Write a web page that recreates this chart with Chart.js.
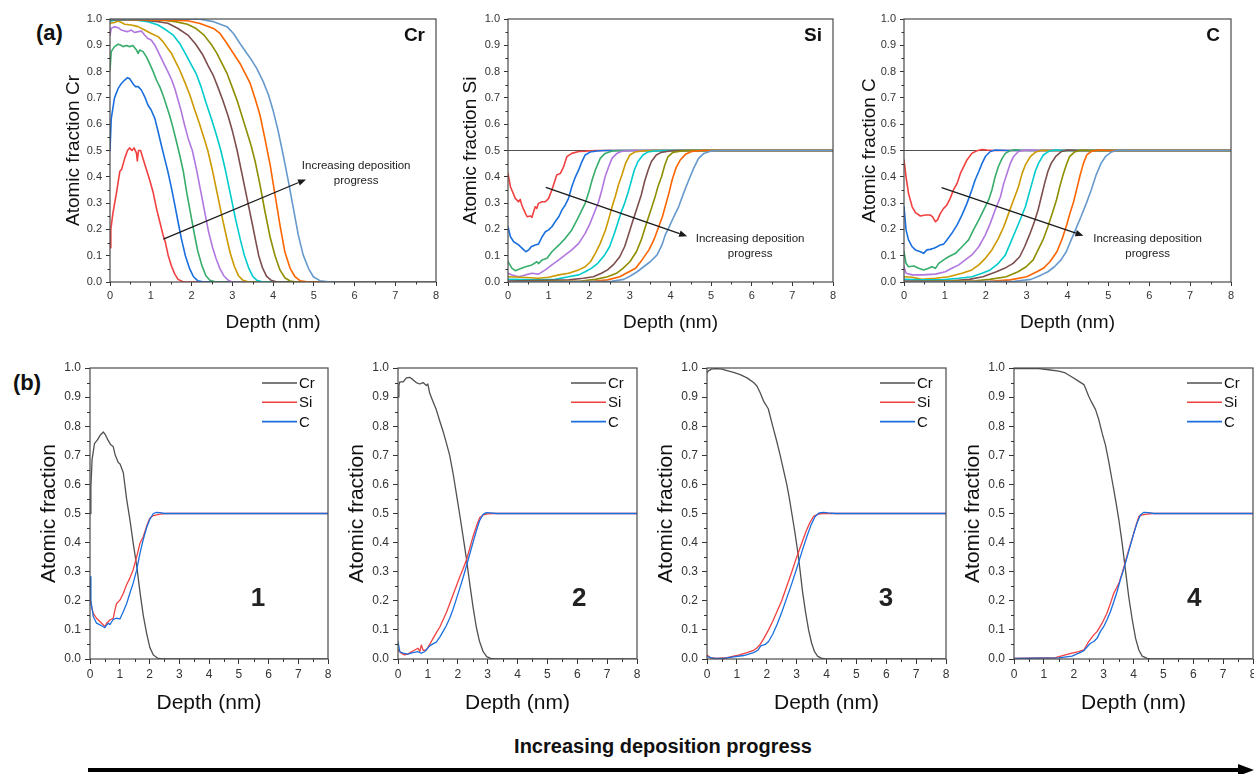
<!DOCTYPE html>
<html>
<head>
<meta charset="utf-8">
<title>Cr / Si / C depth profiles</title>
<script src="https://cdn.jsdelivr.net/npm/chart.js@4"></script>
<style>
  html, body { margin: 0; padding: 0; background: #fff; }
  #figure { position: relative; width: 1254px; height: 774px; overflow: hidden; font-family: "Liberation Sans", Arial, sans-serif; color: #111; }
  .panel { position: absolute; }
  .tag { position: absolute; font-weight: bold; font-size: 22px; line-height: 26px; }
  #progress { position: absolute; left: 413px; width: 500px; top: 734px; line-height: 24px; text-align: center; font-weight: bold; font-size: 20px; }
  #bigArrow { position: absolute; left: 0; top: 760px; }
</style>
</head>
<body>
<div id="figure">
  <div class="tag" style="left:36px; top:20px;">(a)</div>
  <div class="tag" style="left:13px; top:370px;">(b)</div>
  <div id="progress">Increasing deposition progress</div>
  <svg id="bigArrow" width="1254" height="20">
    <line x1="88" y1="10" x2="1242" y2="10" stroke="#000" stroke-width="4"></line>
    <polygon points="1238,4 1254,10 1238,16" fill="#000"></polygon>
  </svg>
</div>

<script>
// ---- top row: ten deposition stages, [depth nm, atomic fraction] ----
const cr01 = [[0,0.13],[0.02,0.2],[0.07,0.26],[0.16,0.34],[0.24,0.42],[0.29,0.43],[0.36,0.47],[0.43,0.5],[0.48,0.51],[0.54,0.5],[0.59,0.51],[0.65,0.49],[0.67,0.46],[0.7,0.5],[0.75,0.5],[0.81,0.47],[0.89,0.43],[0.97,0.39],[1.06,0.34],[1.14,0.28],[1.22,0.23],[1.3,0.18],[1.36,0.15],[1.43,0.1],[1.51,0.06],[1.59,0.03],[1.67,0.01],[1.8,0],[8,0]];
const cr02 = [[0,0.5],[0.03,0.62],[0.11,0.7],[0.2,0.736],[0.28,0.755],[0.36,0.768],[0.43,0.777],[0.48,0.774],[0.56,0.755],[0.62,0.743],[0.69,0.743],[0.77,0.73],[0.85,0.705],[0.93,0.673],[1.01,0.654],[1.1,0.622],[1.18,0.572],[1.26,0.52],[1.34,0.47],[1.42,0.42],[1.51,0.356],[1.59,0.293],[1.67,0.229],[1.75,0.166],[1.85,0.1],[1.95,0.052],[2.05,0.02],[2.15,0.005],[2.3,0],[8,0]];
const cr03 = [[0,0.806],[0.03,0.876],[0.11,0.895],[0.2,0.904],[0.26,0.901],[0.32,0.895],[0.4,0.899],[0.48,0.895],[0.56,0.899],[0.65,0.882],[0.69,0.869],[0.73,0.882],[0.81,0.876],[0.89,0.857],[0.97,0.831],[1.06,0.8],[1.14,0.768],[1.22,0.743],[1.3,0.711],[1.38,0.673],[1.46,0.635],[1.55,0.584],[1.63,0.534],[1.71,0.483],[1.8,0.42],[1.88,0.343],[1.97,0.267],[2.06,0.191],[2.15,0.12],[2.25,0.065],[2.35,0.025],[2.45,0.007],[2.6,0],[8,0]];
const cr04 = [[0,0.939],[0.03,0.964],[0.11,0.971],[0.2,0.967],[0.28,0.958],[0.36,0.954],[0.44,0.952],[0.52,0.958],[0.6,0.949],[0.69,0.952],[0.77,0.954],[0.85,0.939],[0.93,0.926],[1.01,0.92],[1.1,0.901],[1.18,0.876],[1.26,0.85],[1.34,0.825],[1.42,0.8],[1.51,0.77],[1.59,0.736],[1.67,0.692],[1.75,0.648],[1.83,0.597],[1.92,0.545],[2.02,0.5],[2.12,0.43],[2.22,0.35],[2.32,0.27],[2.42,0.19],[2.52,0.13],[2.6,0.09],[2.7,0.05],[2.8,0.022],[2.9,0.007],[3.0,0],[8,0]];
const cr05 = [[0,0.984],[0.11,0.987],[0.2,0.992],[0.28,0.987],[0.36,0.98],[0.52,0.977],[0.69,0.971],[0.85,0.958],[1.01,0.945],[1.18,0.933],[1.3,0.914],[1.42,0.888],[1.51,0.869],[1.59,0.844],[1.71,0.806],[1.83,0.762],[1.96,0.711],[2.08,0.654],[2.2,0.6],[2.3,0.55],[2.4,0.5],[2.52,0.42],[2.64,0.33],[2.76,0.24],[2.86,0.17],[2.95,0.11],[3.05,0.06],[3.15,0.025],[3.25,0.008],[3.4,0],[8,0]];
const cr06 = [[0,0.992],[0.2,0.997],[0.61,0.996],[0.93,0.99],[1.18,0.977],[1.38,0.958],[1.55,0.939],[1.71,0.907],[1.87,0.863],[2.0,0.825],[2.12,0.79],[2.24,0.74],[2.36,0.68],[2.49,0.62],[2.61,0.56],[2.72,0.5],[2.84,0.42],[2.96,0.33],[3.08,0.24],[3.2,0.16],[3.3,0.1],[3.4,0.055],[3.5,0.022],[3.6,0.007],[3.75,0],[8,0]];
const cr07 = [[0,0.997],[0.77,0.996],[1.18,0.99],[1.42,0.984],[1.67,0.964],[1.91,0.939],[2.1,0.905],[2.28,0.863],[2.4,0.825],[2.53,0.787],[2.65,0.74],[2.77,0.69],[2.9,0.63],[3.01,0.57],[3.12,0.5],[3.24,0.41],[3.36,0.32],[3.48,0.23],[3.57,0.16],[3.65,0.1],[3.74,0.055],[3.84,0.022],[3.95,0.007],[4.1,0],[8,0]];
const cr08 = [[0,0.999],[1.2,0.997],[1.6,0.99],[1.9,0.98],[2.1,0.965],[2.3,0.94],[2.5,0.9],[2.62,0.87],[2.75,0.83],[2.88,0.79],[3.0,0.74],[3.12,0.69],[3.24,0.63],[3.36,0.57],[3.46,0.52],[3.56,0.46],[3.68,0.37],[3.8,0.27],[3.93,0.17],[4.05,0.1],[4.17,0.046],[4.29,0.016],[4.42,0.004],[4.58,0],[8,0]];
const cr09 = [[0,1.0],[1.88,0.994],[2.21,0.983],[2.54,0.964],[2.7,0.945],[2.87,0.907],[3.03,0.869],[3.19,0.831],[3.36,0.78],[3.44,0.755],[3.56,0.698],[3.68,0.635],[3.8,0.546],[3.93,0.445],[4.05,0.331],[4.17,0.217],[4.29,0.115],[4.42,0.052],[4.54,0.02],[4.66,0.005],[4.87,0],[8,0]];
const cr10 = [[0,1.0],[2.21,0.999],[2.54,0.99],[2.87,0.971],[3.03,0.945],[3.19,0.907],[3.36,0.869],[3.44,0.852],[3.6,0.812],[3.76,0.762],[3.89,0.711],[4.01,0.648],[4.13,0.572],[4.25,0.483],[4.38,0.381],[4.5,0.28],[4.62,0.179],[4.74,0.103],[4.87,0.052],[4.99,0.02],[5.15,0.005],[5.4,0],[8,0]];

const si01 = [[0,0.413],[0.06,0.362],[0.18,0.318],[0.26,0.305],[0.3,0.314],[0.34,0.293],[0.39,0.274],[0.47,0.248],[0.55,0.251],[0.59,0.246],[0.63,0.267],[0.67,0.286],[0.71,0.28],[0.75,0.299],[0.84,0.305],[0.92,0.305],[1.0,0.318],[1.08,0.35],[1.2,0.407],[1.29,0.413],[1.37,0.439],[1.45,0.477],[1.57,0.489],[1.74,0.496],[1.9,0.497],[2.15,0.5],[8,0.5]];
const si02 = [[0,0.21],[0.06,0.172],[0.14,0.153],[0.26,0.141],[0.39,0.122],[0.44,0.115],[0.51,0.122],[0.57,0.134],[0.67,0.141],[0.75,0.144],[0.84,0.172],[0.92,0.191],[1.0,0.198],[1.08,0.21],[1.16,0.229],[1.25,0.248],[1.33,0.274],[1.41,0.293],[1.49,0.318],[1.57,0.362],[1.66,0.4],[1.74,0.426],[1.82,0.458],[1.9,0.483],[2.02,0.494],[2.19,0.498],[2.39,0.5],[8,0.5]];
const si03 = [[0,0.077],[0.1,0.052],[0.18,0.043],[0.3,0.05],[0.43,0.058],[0.59,0.065],[0.71,0.077],[0.75,0.07],[0.84,0.084],[0.96,0.09],[1.08,0.115],[1.25,0.14],[1.41,0.166],[1.57,0.198],[1.7,0.236],[1.82,0.274],[1.9,0.299],[1.98,0.337],[2.07,0.388],[2.15,0.426],[2.27,0.47],[2.39,0.489],[2.56,0.498],[2.8,0.5],[8,0.5]];
const si04 = [[0,0.033],[0.1,0.027],[0.26,0.02],[0.43,0.027],[0.59,0.033],[0.75,0.03],[0.92,0.046],[1.08,0.065],[1.25,0.084],[1.41,0.103],[1.57,0.122],[1.74,0.147],[1.9,0.185],[2.02,0.223],[2.15,0.274],[2.23,0.305],[2.31,0.35],[2.39,0.4],[2.48,0.439],[2.56,0.47],[2.68,0.489],[2.8,0.497],[3.05,0.5],[8,0.5]];
const si05 = [[0,0.02],[0.45,0.017],[0.75,0.014],[1.0,0.018],[1.25,0.027],[1.49,0.033],[1.74,0.046],[1.9,0.058],[2.03,0.077],[2.15,0.109],[2.27,0.147],[2.4,0.198],[2.48,0.24],[2.56,0.285],[2.64,0.325],[2.72,0.37],[2.81,0.41],[2.89,0.45],[3.0,0.483],[3.12,0.494],[3.3,0.498],[3.55,0.5],[8,0.5]];
const si06 = [[0,0.01],[0.75,0.008],[1.16,0.01],[1.49,0.02],[1.74,0.027],[1.9,0.039],[2.05,0.052],[2.21,0.071],[2.38,0.103],[2.5,0.134],[2.62,0.185],[2.7,0.223],[2.79,0.267],[2.87,0.299],[2.95,0.337],[3.03,0.381],[3.11,0.426],[3.2,0.458],[3.32,0.483],[3.44,0.494],[3.6,0.498],[3.85,0.5],[8,0.5]];
const si07 = [[0,0.004],[1.5,0.008],[1.85,0.014],[2.1,0.02],[2.3,0.033],[2.45,0.046],[2.59,0.065],[2.75,0.096],[2.87,0.134],[2.95,0.172],[3.04,0.217],[3.12,0.255],[3.2,0.293],[3.28,0.331],[3.36,0.381],[3.45,0.426],[3.53,0.458],[3.65,0.483],[3.77,0.493],[3.98,0.498],[4.22,0.5],[8,0.5]];
const si08 = [[0,0.001],[1.8,0.004],[2.15,0.01],[2.45,0.02],[2.67,0.033],[2.83,0.052],[3.0,0.077],[3.16,0.115],[3.28,0.16],[3.37,0.204],[3.45,0.242],[3.53,0.28],[3.61,0.318],[3.69,0.362],[3.78,0.4],[3.86,0.445],[3.94,0.477],[4.06,0.493],[4.27,0.498],[4.47,0.5],[8,0.5]];
const si09 = [[0,0],[2.1,0.003],[2.45,0.008],[2.75,0.02],[2.98,0.039],[3.14,0.052],[3.3,0.084],[3.47,0.122],[3.59,0.16],[3.71,0.21],[3.8,0.248],[3.88,0.293],[3.96,0.337],[4.04,0.388],[4.13,0.432],[4.24,0.464],[4.38,0.487],[4.52,0.496],[4.8,0.5],[8,0.5]];
const si10 = [[0,0],[2.55,0.003],[2.85,0.01],[3.01,0.023],[3.18,0.039],[3.34,0.058],[3.5,0.077],[3.67,0.103],[3.79,0.141],[3.87,0.179],[3.95,0.204],[4.08,0.248],[4.2,0.286],[4.32,0.337],[4.45,0.388],[4.57,0.432],[4.69,0.47],[4.82,0.489],[5.0,0.498],[5.25,0.5],[8,0.5]];

const c01 = [[0,0.464],[0.05,0.4],[0.11,0.337],[0.2,0.286],[0.28,0.264],[0.4,0.251],[0.52,0.255],[0.64,0.255],[0.7,0.248],[0.77,0.229],[0.82,0.236],[0.89,0.261],[0.97,0.28],[1.05,0.293],[1.13,0.318],[1.21,0.35],[1.3,0.375],[1.38,0.413],[1.46,0.439],[1.54,0.464],[1.66,0.489],[1.78,0.499],[1.91,0.504],[2.03,0.502],[2.19,0.5],[8,0.5]];
const c02 = [[0,0.286],[0.05,0.198],[0.11,0.16],[0.2,0.134],[0.28,0.122],[0.4,0.115],[0.48,0.109],[0.56,0.122],[0.64,0.124],[0.73,0.128],[0.81,0.134],[0.89,0.141],[0.97,0.144],[1.05,0.16],[1.17,0.185],[1.3,0.217],[1.42,0.255],[1.54,0.299],[1.66,0.35],[1.74,0.388],[1.83,0.42],[1.91,0.451],[1.99,0.477],[2.11,0.496],[2.23,0.502],[2.4,0.501],[2.56,0.5],[8,0.5]];
const c03 = [[0,0.115],[0.05,0.071],[0.11,0.058],[0.24,0.061],[0.36,0.052],[0.48,0.046],[0.6,0.052],[0.68,0.058],[0.77,0.052],[0.85,0.071],[0.97,0.084],[1.09,0.096],[1.26,0.109],[1.42,0.134],[1.58,0.16],[1.7,0.198],[1.83,0.236],[1.95,0.274],[2.07,0.312],[2.15,0.35],[2.23,0.4],[2.31,0.439],[2.4,0.47],[2.48,0.489],[2.6,0.5],[2.72,0.503],[2.89,0.501],[3.05,0.5],[8,0.5]];
const c04 = [[0,0.058],[0.05,0.033],[0.2,0.027],[0.44,0.027],[0.77,0.03],[1.01,0.039],[1.17,0.052],[1.34,0.065],[1.5,0.084],[1.66,0.103],[1.83,0.134],[1.99,0.179],[2.11,0.223],[2.23,0.274],[2.36,0.324],[2.44,0.375],[2.52,0.413],[2.6,0.451],[2.68,0.477],[2.8,0.496],[2.97,0.502],[3.17,0.501],[3.37,0.5],[8,0.5]];
const c05 = [[0,0.02],[0.2,0.018],[0.44,0.01],[0.77,0.014],[1.09,0.02],[1.42,0.033],[1.66,0.046],[1.83,0.065],[1.99,0.09],[2.15,0.122],[2.31,0.166],[2.44,0.21],[2.56,0.261],[2.68,0.312],[2.8,0.362],[2.89,0.413],[2.97,0.445],[3.09,0.477],[3.21,0.493],[3.37,0.501],[3.62,0.5],[8,0.5]];
const c06 = [[0,0.01],[0.44,0.008],[0.93,0.008],[1.34,0.014],[1.66,0.02],[1.91,0.033],[2.11,0.046],[2.31,0.071],[2.48,0.103],[2.6,0.147],[2.72,0.191],[2.84,0.236],[2.97,0.286],[3.05,0.331],[3.13,0.375],[3.21,0.42],[3.29,0.451],[3.41,0.483],[3.54,0.497],[3.7,0.502],[3.94,0.5],[8,0.5]];
const c07 = [[0,0.004],[1.17,0.005],[1.6,0.01],[1.93,0.02],[2.26,0.039],[2.46,0.052],[2.67,0.071],[2.83,0.096],[2.95,0.134],[3.07,0.179],[3.19,0.229],[3.28,0.274],[3.36,0.324],[3.44,0.375],[3.52,0.42],[3.6,0.451],[3.72,0.479],[3.85,0.496],[4.01,0.502],[4.25,0.5],[8,0.5]];
const c08 = [[0,0.001],[1.75,0.005],[2.1,0.01],[2.5,0.02],[2.79,0.039],[2.99,0.058],[3.16,0.084],[3.28,0.122],[3.4,0.16],[3.52,0.21],[3.64,0.267],[3.73,0.312],[3.81,0.362],[3.89,0.407],[3.97,0.445],[4.05,0.477],[4.17,0.494],[4.34,0.502],[4.54,0.5],[8,0.5]];
const c09 = [[0,0],[2.1,0.003],[2.6,0.008],[3.0,0.02],[3.25,0.039],[3.41,0.052],[3.57,0.077],[3.74,0.115],[3.86,0.16],[3.98,0.217],[4.06,0.261],[4.15,0.305],[4.23,0.356],[4.31,0.407],[4.39,0.451],[4.47,0.483],[4.59,0.497],[4.8,0.502],[5.0,0.5],[8,0.5]];
const c10 = [[0,0],[2.7,0.003],[3.11,0.01],[3.36,0.027],[3.52,0.039],[3.68,0.058],[3.84,0.084],[3.97,0.115],[4.09,0.16],[4.21,0.204],[4.33,0.248],[4.46,0.299],[4.58,0.35],[4.7,0.407],[4.82,0.451],[4.94,0.479],[5.07,0.494],[5.23,0.501],[5.47,0.5],[8,0.5]];

const halfLine = [[0,0.5],[8,0.5]];

// ---- bottom row: snapshots 1-4 ----
const s1Cr = [[0,0.5],[0.03,0.59],[0.07,0.685],[0.15,0.74],[0.25,0.753],[0.35,0.77],[0.45,0.78],[0.52,0.77],[0.6,0.753],[0.7,0.736],[0.78,0.73],[0.85,0.7],[0.95,0.675],[1.01,0.67],[1.12,0.64],[1.23,0.55],[1.34,0.48],[1.45,0.4],[1.57,0.32],[1.68,0.23],[1.79,0.15],[1.9,0.09],[2.01,0.04],[2.13,0.014],[2.29,0.002],[2.46,0],[8,0]];
const s1Si = [[0,0.21],[0.05,0.18],[0.11,0.157],[0.22,0.14],[0.34,0.128],[0.45,0.117],[0.5,0.111],[0.56,0.123],[0.67,0.134],[0.78,0.14],[0.84,0.169],[0.89,0.19],[1.01,0.203],[1.12,0.226],[1.23,0.255],[1.34,0.278],[1.45,0.306],[1.57,0.352],[1.68,0.398],[1.79,0.42],[1.9,0.455],[2.01,0.484],[2.13,0.493],[2.24,0.495],[2.35,0.498],[2.57,0.5],[8,0.5]];
const s1C = [[0,0.283],[0.03,0.2],[0.11,0.146],[0.22,0.123],[0.34,0.117],[0.45,0.111],[0.5,0.108],[0.56,0.117],[0.62,0.123],[0.67,0.118],[0.73,0.128],[0.78,0.136],[0.89,0.14],[1.01,0.138],[1.12,0.163],[1.23,0.19],[1.34,0.226],[1.45,0.26],[1.57,0.306],[1.68,0.364],[1.79,0.41],[1.9,0.45],[2.01,0.48],[2.13,0.5],[2.24,0.504],[2.35,0.503],[2.52,0.5],[8,0.5]];

const s2Cr = [[0,0.9],[0.03,0.94],[0.06,0.952],[0.17,0.952],[0.28,0.966],[0.39,0.968],[0.5,0.96],[0.61,0.95],[0.73,0.945],[0.84,0.95],[0.95,0.94],[1.0,0.945],[1.06,0.914],[1.17,0.885],[1.28,0.857],[1.4,0.817],[1.51,0.782],[1.62,0.742],[1.73,0.7],[1.84,0.64],[1.95,0.57],[2.06,0.5],[2.18,0.42],[2.29,0.345],[2.4,0.26],[2.51,0.18],[2.62,0.11],[2.73,0.06],[2.85,0.025],[2.97,0.008],[3.1,0.002],[3.25,0],[8,0]];
const s2Si = [[0,0.031],[0.11,0.02],[0.22,0.014],[0.33,0.017],[0.45,0.025],[0.56,0.031],[0.67,0.037],[0.73,0.026],[0.78,0.048],[0.84,0.03],[0.95,0.031],[1.06,0.05],[1.17,0.07],[1.28,0.09],[1.4,0.11],[1.51,0.135],[1.62,0.16],[1.73,0.19],[1.84,0.22],[1.95,0.25],[2.06,0.28],[2.18,0.31],[2.29,0.34],[2.4,0.38],[2.51,0.42],[2.62,0.455],[2.73,0.485],[2.85,0.495],[3.0,0.499],[3.2,0.5],[8,0.5]];
const s2C = [[0,0.06],[0.06,0.025],[0.17,0.02],[0.33,0.017],[0.5,0.022],[0.67,0.025],[0.78,0.02],[0.89,0.025],[1.06,0.045],[1.17,0.052],[1.28,0.058],[1.4,0.075],[1.51,0.095],[1.62,0.115],[1.73,0.14],[1.84,0.17],[1.95,0.205],[2.06,0.24],[2.18,0.28],[2.29,0.32],[2.4,0.36],[2.51,0.4],[2.62,0.44],[2.73,0.475],[2.85,0.497],[2.95,0.503],[3.1,0.502],[3.3,0.5],[8,0.5]];

const s3Cr = [[0,0.983],[0.05,0.99],[0.15,0.996],[0.3,0.998],[0.5,0.996],[0.67,0.991],[0.89,0.985],[1.11,0.977],[1.34,0.966],[1.56,0.95],[1.67,0.938],[1.78,0.915],[1.9,0.885],[2.05,0.86],[2.2,0.8],[2.33,0.75],[2.45,0.7],[2.56,0.65],[2.67,0.6],[2.76,0.55],[2.84,0.5],[2.95,0.43],[3.05,0.36],[3.12,0.3],[3.2,0.23],[3.3,0.16],[3.4,0.1],[3.5,0.055],[3.6,0.025],[3.7,0.01],[3.82,0.003],[3.98,0],[8,0]];
const s3Si = [[0,0.014],[0.11,0.005],[0.33,0.002],[0.67,0.005],[1.0,0.012],[1.34,0.022],[1.56,0.03],[1.67,0.038],[1.78,0.05],[1.9,0.07],[2.06,0.1],[2.2,0.13],[2.35,0.165],[2.5,0.2],[2.67,0.25],[2.84,0.3],[3.0,0.35],[3.18,0.4],[3.32,0.44],[3.45,0.47],[3.57,0.49],[3.7,0.497],[3.85,0.5],[8,0.5]];
const s3C = [[0,0.008],[0.22,0.002],[0.56,0.002],[0.89,0.007],[1.23,0.012],[1.56,0.022],[1.7,0.03],[1.8,0.045],[1.95,0.05],[2.06,0.06],[2.2,0.085],[2.35,0.12],[2.5,0.16],[2.67,0.21],[2.84,0.26],[3.0,0.31],[3.18,0.37],[3.34,0.42],[3.48,0.46],[3.62,0.49],[3.75,0.502],[3.9,0.504],[4.05,0.502],[4.3,0.5],[8,0.5]];

const s4Cr = [[0,0.998],[0.83,0.998],[1.16,0.994],[1.5,0.989],[1.72,0.983],[1.94,0.969],[2.17,0.954],[2.34,0.943],[2.39,0.931],[2.5,0.903],[2.61,0.88],[2.73,0.857],[2.84,0.822],[2.95,0.776],[3.06,0.736],[3.17,0.679],[3.28,0.616],[3.4,0.547],[3.51,0.478],[3.62,0.398],[3.73,0.306],[3.84,0.214],[3.96,0.134],[4.07,0.071],[4.18,0.031],[4.29,0.01],[4.46,0.002],[4.63,0],[8,0]];
const s4Si = [[0,0.002],[1.39,0.005],[1.72,0.014],[1.94,0.02],[2.17,0.025],[2.34,0.031],[2.5,0.06],[2.67,0.083],[2.78,0.094],[2.95,0.123],[3.11,0.157],[3.23,0.192],[3.34,0.226],[3.51,0.26],[3.62,0.295],[3.73,0.335],[3.84,0.375],[3.96,0.415],[4.07,0.455],[4.18,0.49],[4.29,0.495],[4.46,0.498],[4.63,0.5],[8,0.5]];
const s4C = [[0,0.002],[1.5,0.004],[1.94,0.01],[2.17,0.02],[2.34,0.029],[2.45,0.042],[2.56,0.054],[2.67,0.06],[2.78,0.071],[2.89,0.094],[3.0,0.111],[3.11,0.134],[3.23,0.163],[3.34,0.197],[3.45,0.232],[3.56,0.272],[3.68,0.312],[3.79,0.352],[3.9,0.392],[4.01,0.432],[4.12,0.467],[4.23,0.495],[4.35,0.504],[4.51,0.503],[4.68,0.5],[8,0.5]];

const stageColors = ['#F14040', '#1A6FDF', '#37AD6B', '#B177DE', '#CC9900', '#00CBCC', '#7D4E4E', '#8E8E00', '#FB6501', '#6699CC'];
const elementColors = { Cr: '#515151', Si: '#F14040', C: '#1A6FDF' };
const minorDepth = [0.5, 1.5, 2.5, 3.5, 4.5, 5.5, 6.5, 7.5];
const minorFraction = [0.05, 0.15, 0.25, 0.35, 0.45, 0.55, 0.65, 0.75, 0.85, 0.95];

const frameColor = '#4a4a4a';
const tickColor = '#333';

Chart.defaults.font.family = '"Liberation Sans", Arial, sans-serif';
Chart.defaults.color = '#222';

// frame, minor ticks, labels, arrows and the little legend
const decor = {
  id: 'decor',
  afterDatasetsDraw(chart, args, o) {
    const { ctx, chartArea: a, scales: { x, y } } = chart;
    ctx.save();
    ctx.strokeStyle = frameColor;
    ctx.lineWidth = 1.2;
    ctx.strokeRect(a.left, a.top, a.right - a.left, a.bottom - a.top);

    ctx.lineWidth = 1;
    ctx.strokeStyle = tickColor;
    ctx.beginPath();
    minorDepth.forEach((v) => {
      const px = Math.round(x.getPixelForValue(v)) + 0.5;
      ctx.moveTo(px, a.bottom);
      ctx.lineTo(px, a.bottom + o.minorLen);
    });
    minorFraction.forEach((v) => {
      const py = Math.round(y.getPixelForValue(v)) + 0.5;
      ctx.moveTo(a.left - o.minorLen, py);
      ctx.lineTo(a.left, py);
    });
    ctx.stroke();

    ctx.fillStyle = '#111';
    if (o.tag) {
      ctx.font = 'bold 19px "Liberation Sans", Arial, sans-serif';
      ctx.textAlign = 'right';
      ctx.textBaseline = 'middle';
      ctx.fillText(o.tag, a.right - 11, a.top + 17);
    }

    if (o.arrow) {
      const [x0, y0, x1, y1] = o.arrow;
      const p0 = [x.getPixelForValue(x0), y.getPixelForValue(y0)];
      const p1 = [x.getPixelForValue(x1), y.getPixelForValue(y1)];
      const ang = Math.atan2(p1[1] - p0[1], p1[0] - p0[0]);
      const c = Math.cos(ang), s = Math.sin(ang);
      const hl = 8, hw = 3.2;
      ctx.strokeStyle = '#1a1a1a';
      ctx.fillStyle = '#1a1a1a';
      ctx.lineWidth = 1.3;
      ctx.beginPath();
      ctx.moveTo(p0[0], p0[1]);
      ctx.lineTo(p1[0] - hl * c, p1[1] - hl * s);
      ctx.stroke();
      ctx.beginPath();
      ctx.moveTo(p1[0], p1[1]);
      ctx.lineTo(p1[0] - hl * c + hw * s, p1[1] - hl * s - hw * c);
      ctx.lineTo(p1[0] - hl * c - hw * s, p1[1] - hl * s + hw * c);
      ctx.closePath();
      ctx.fill();
    }

    (o.notes || []).forEach((n) => {
      ctx.font = n.font;
      ctx.fillStyle = '#222';
      ctx.textAlign = 'center';
      ctx.textBaseline = 'middle';
      ctx.fillText(n.text, x.getPixelForValue(n.x), y.getPixelForValue(n.y));
    });

    if (o.legend) {
      ctx.font = '15px "Liberation Sans", Arial, sans-serif';
      ctx.textAlign = 'left';
      ctx.textBaseline = 'middle';
      chart.data.datasets.forEach((ds, i) => {
        const ly = a.top + 15 + i * 19.3;
        ctx.strokeStyle = ds.borderColor;
        ctx.lineWidth = 1.6;
        ctx.beginPath();
        ctx.moveTo(a.right - 66, ly);
        ctx.lineTo(a.right - 31, ly);
        ctx.stroke();
        ctx.fillStyle = '#111';
        ctx.fillText(ds.label, a.right - 29, ly + 1);
      });
    }
    ctx.restore();
  },
};

function makePanel(cfg) {
  const w = cfg.yw + cfg.plotW + cfg.pr;
  const h = cfg.pt + cfg.plotH + cfg.xh;
  const wrap = document.createElement('div');
  wrap.className = 'panel';
  wrap.style.left = cfg.left + 'px';
  wrap.style.top = cfg.top + 'px';
  wrap.style.width = w + 'px';
  wrap.style.height = h + 'px';
  const canvas = document.createElement('canvas');
  canvas.width = w;
  canvas.height = h;
  wrap.appendChild(canvas);
  document.getElementById('figure').appendChild(wrap);

  const tickGrid = {
    drawOnChartArea: false,
    drawTicks: true,
    tickLength: cfg.tickLen,
    tickColor: tickColor,
    tickWidth: 1,
  };

  return new Chart(canvas, {
    type: 'line',
    data: { datasets: cfg.datasets },
    options: {
      responsive: false,
      animation: false,
      events: [],
      layout: { padding: { top: cfg.pt, right: cfg.pr, left: 0, bottom: 0 } },
      elements: {
        point: { radius: 0 },
        line: { tension: 0, borderJoinStyle: 'round', borderCapStyle: 'round' },
      },
      plugins: {
        legend: { display: false },
        tooltip: { enabled: false },
        decor: cfg.decor,
      },
      scales: {
        x: {
          type: 'linear',
          min: 0,
          max: 8,
          afterFit: (s) => { s.height = cfg.xh; },
          grid: tickGrid,
          border: { display: false },
          ticks: {
            stepSize: 1,
            maxRotation: 0,
            padding: 3,
            color: tickColor,
            font: { size: cfg.tickSize },
          },
          title: {
            display: true,
            text: 'Depth (nm)',
            color: '#111',
            font: { size: cfg.titleSize },
            padding: { top: 0, bottom: cfg.xTitlePad },
          },
        },
        y: {
          type: 'linear',
          min: 0,
          max: 1,
          afterFit: (s) => { s.width = cfg.yw; },
          grid: tickGrid,
          border: { display: false },
          ticks: {
            stepSize: 0.1,
            padding: 4,
            color: tickColor,
            font: { size: cfg.tickSize },
            callback: (v) => v.toFixed(1),
          },
          title: {
            display: true,
            text: cfg.yTitle,
            color: '#111',
            font: { size: cfg.titleSize },
            padding: { top: cfg.yTitlePad, bottom: 0 },
          },
        },
      },
    },
    plugins: [decor],
  });
}

function stageSets(profiles, withHalfLine) {
  const sets = profiles.map((d, i) => ({
    label: 'stage ' + (i + 1),
    data: d,
    borderColor: stageColors[i],
    borderWidth: 1.6,
    order: 10 - i,
  }));
  if (withHalfLine) {
    sets.push({ label: 'x = 0.5', data: halfLine, borderColor: '#515151', borderWidth: 1.2, order: 20 });
  }
  return sets;
}

function elementSets(cr, si, c) {
  return [
    { label: 'Cr', data: cr, borderColor: elementColors.Cr, borderWidth: 1.3, order: 3 },
    { label: 'Si', data: si, borderColor: elementColors.Si, borderWidth: 1.3, order: 2 },
    { label: 'C', data: c, borderColor: elementColors.C, borderWidth: 1.3, order: 1 },
  ];
}

const topCommon = { top: 0, plotH: 263, pt: 19, xh: 58, yw: 60, pr: 14, tickLen: 4, tickSize: 11, titleSize: 19, xTitlePad: 6 };
const noteFont = '11.5px "Liberation Sans", Arial, sans-serif';

makePanel({
  ...topCommon, left: 50, plotW: 326, yTitlePad: 12, yTitle: 'Atomic fraction Cr',
  datasets: stageSets([cr01, cr02, cr03, cr04, cr05, cr06, cr07, cr08, cr09, cr10], false),
  decor: {
    minorLen: 2.5, tag: 'Cr', arrow: [1.31, 0.163, 4.81, 0.39],
    notes: [
      { text: 'Increasing deposition', x: 6.04, y: 0.441, font: noteFont },
      { text: 'progress', x: 6.04, y: 0.386, font: noteFont },
    ],
  },
});

makePanel({
  ...topCommon, left: 448, plotW: 325, yTitlePad: 11, yTitle: 'Atomic fraction Si',
  datasets: stageSets([si01, si02, si03, si04, si05, si06, si07, si08, si09, si10], true),
  decor: {
    minorLen: 2.5, tag: 'Si', arrow: [0.93, 0.36, 4.41, 0.174],
    notes: [
      { text: 'Increasing deposition', x: 5.96, y: 0.163, font: noteFont },
      { text: 'progress', x: 5.96, y: 0.106, font: noteFont },
    ],
  },
});

makePanel({
  ...topCommon, left: 844, plotW: 327, yTitlePad: 14, yTitle: 'Atomic fraction C',
  datasets: stageSets([c01, c02, c03, c04, c05, c06, c07, c08, c09, c10], true),
  decor: {
    minorLen: 2.5, tag: 'C', arrow: [0.92, 0.359, 4.39, 0.176],
    notes: [
      { text: 'Increasing deposition', x: 5.96, y: 0.163, font: noteFont },
      { text: 'progress', x: 5.96, y: 0.106, font: noteFont },
    ],
  },
});

const bottomCommon = { top: 348, plotH: 291, pt: 20, xh: 60, yw: 60, pr: 12, tickLen: 5, tickSize: 12, titleSize: 21, xTitlePad: 3, yTitlePad: 6.5, yTitle: 'Atomic fraction' };
const bigFont = 'bold 26px "Liberation Sans", Arial, sans-serif';
const snapshots = [
  { left: 30, plotW: 238, sets: [s1Cr, s1Si, s1C], num: '1', nx: 5.65 },
  { left: 338, plotW: 239, sets: [s2Cr, s2Si, s2C], num: '2', nx: 6.07 },
  { left: 647, plotW: 239, sets: [s3Cr, s3Si, s3C], num: '3', nx: 5.99 },
  { left: 954, plotW: 239, sets: [s4Cr, s4Si, s4C], num: '4', nx: 6.03 },
];

snapshots.forEach((sn) => {
  makePanel({
    ...bottomCommon, left: sn.left, plotW: sn.plotW,
    datasets: elementSets(...sn.sets),
    decor: {
      minorLen: 3, legend: true,
      notes: [{ text: sn.num, x: sn.nx, y: 0.207, font: bigFont }],
    },
  });
});
</script>
</body>
</html>
